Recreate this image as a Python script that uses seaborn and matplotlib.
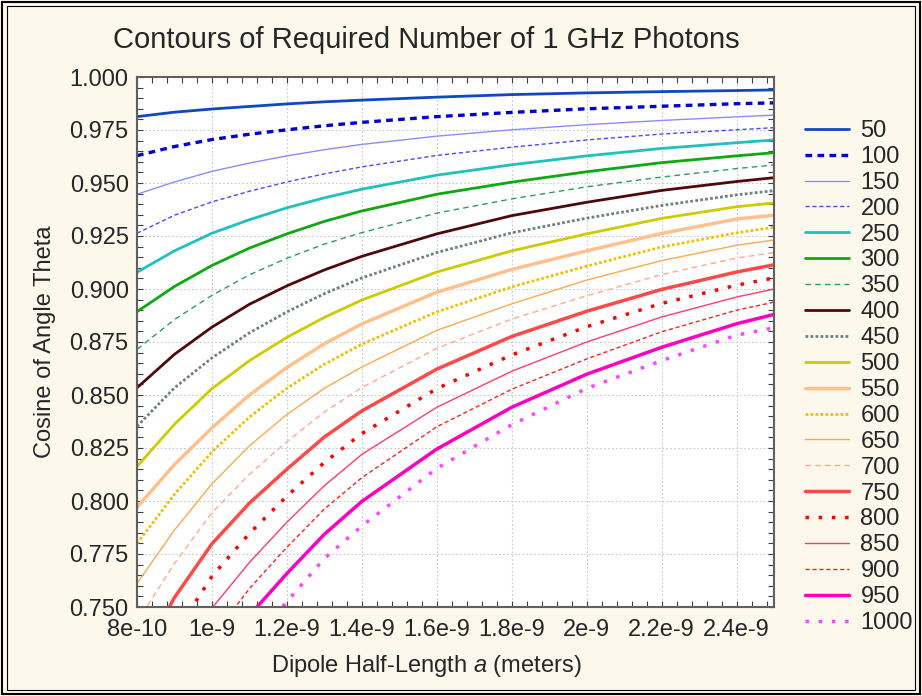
import numpy as np
import pandas as pd
import matplotlib
matplotlib.use("Agg")
import matplotlib.pyplot as plt
import seaborn as sns
from matplotlib.patches import Rectangle
from matplotlib.ticker import MultipleLocator

# -------------------------------
# DATA
# -------------------------------
half_length = [8e-10, 9e-10, 1.0e-9, 1.1e-9, 1.2e-9, 1.3e-9, 1.4e-9,
               1.6e-9, 1.8e-9, 2.0e-9, 2.2e-9, 2.4e-9, 2.5e-9]

nan = np.nan
cos_50 = [0.9813, 0.9834, 0.9849, 0.9861, 0.9873, 0.9883, 0.9891, 0.9905, 0.9917, 0.9925, 0.9931, 0.9936, 0.9939]
cos_100 = [0.9629, 0.9672, 0.9705, 0.9730, 0.9751, 0.9770, 0.9786, 0.9813, 0.9833, 0.9850, 0.9862, 0.9874, 0.9878]
cos_150 = [0.9447, 0.9505, 0.9555, 0.9594, 0.9628, 0.9657, 0.9682, 0.9721, 0.9751, 0.9775, 0.9795, 0.9812, 0.9820]
cos_200 = [0.9263, 0.9348, 0.9411, 0.9461, 0.9505, 0.9543, 0.9576, 0.9630, 0.9669, 0.9703, 0.9731, 0.9751, 0.9761]
cos_250 = [0.9079, 0.9180, 0.9263, 0.9327, 0.9383, 0.9430, 0.9471, 0.9537, 0.9586, 0.9628, 0.9663, 0.9690, 0.9703]
cos_300 = [0.8893, 0.9012, 0.9111, 0.9193, 0.9260, 0.9319, 0.9368, 0.9447, 0.9504, 0.9553, 0.9596, 0.9628, 0.9643]
cos_350 = [0.8715, 0.8856, 0.8970, 0.9067, 0.9145, 0.9212, 0.9266, 0.9358, 0.9425, 0.9482, 0.9528, 0.9568, 0.9585]
cos_400 = [0.8534, 0.8692, 0.8820, 0.8928, 0.9015, 0.9090, 0.9154, 0.9260, 0.9346, 0.9409, 0.9465, 0.9507, 0.9525]
cos_450 = [0.8352, 0.8534, 0.8675, 0.8793, 0.8892, 0.8978, 0.9052, 0.9172, 0.9265, 0.9334, 0.9394, 0.9444, 0.9464]
cos_500 = [0.8163, 0.8362, 0.8530, 0.8662, 0.8772, 0.8866, 0.8948, 0.9080, 0.9180, 0.9260, 0.9333, 0.9388, 0.9406]
cos_550 = [0.7970, 0.8172, 0.8345, 0.8500, 0.8630, 0.8742, 0.8835, 0.8985, 0.9092, 0.9180, 0.9262, 0.9330, 0.9348]
cos_600 = [0.7800, 0.8031, 0.8232, 0.8396, 0.8532, 0.8645, 0.8740, 0.8892, 0.9010, 0.9108, 0.9198, 0.9265, 0.9291]
cos_650 = [0.7611, 0.7863, 0.8081, 0.8260, 0.8408, 0.8532, 0.8632, 0.8805, 0.8930, 0.9042, 0.9134, 0.9206, 0.9231]
cos_700 = [0.7430, 0.7705, 0.7945, 0.8126, 0.8280, 0.8420, 0.8535, 0.8720, 0.8858, 0.8968, 0.9068, 0.9146, 0.9172]
cos_750 = [0.7215, 0.7545, 0.7798, 0.7990, 0.8150, 0.8302, 0.8425, 0.8622, 0.8776, 0.8895, 0.8998, 0.9080, 0.9114]
cos_800 = [nan, 0.7370, 0.7645, 0.7847, 0.8023, 0.8182, 0.8318, 0.8530, 0.8689, 0.8822, 0.8932, 0.9018, 0.9052]
cos_850 = [nan, nan, 0.7495, 0.7710, 0.7900, 0.8072, 0.8220, 0.8442, 0.8612, 0.8750, 0.8868, 0.8962, 0.9000]
cos_900 = [nan, nan, 0.7355, 0.7587, 0.7782, 0.7962, 0.8110, 0.8350, 0.8527, 0.8670, 0.8798, 0.8900, 0.8938]
cos_950 = [nan, nan, nan, 0.7460, 0.7658, 0.7843, 0.7998, 0.8245, 0.8442, 0.8598, 0.8725, 0.8836, 0.8880]
cos_1000 = [nan, nan, nan, 0.7310, 0.7525, 0.7729, 0.7882, 0.8154, 0.8360, 0.8531, 0.8662, 0.8782, 0.8817]

photon_counts = [50, 100, 150, 200, 250, 300, 350, 400, 450, 500,
                 550, 600, 650, 700, 750, 800, 850, 900, 950, 1000]
contours = [cos_50, cos_100, cos_150, cos_200, cos_250, cos_300, cos_350,
            cos_400, cos_450, cos_500, cos_550, cos_600, cos_650, cos_700,
            cos_750, cos_800, cos_850, cos_900, cos_950, cos_1000]

x_ticks = [8e-10, 1e-9, 1.2e-9, 1.4e-9, 1.6e-9, 1.8e-9, 2e-9, 2.2e-9, 2.4e-9]
x_tick_labels = ["8e-10", "1e-9", "1.2e-9", "1.4e-9", "1.6e-9",
                 "1.8e-9", "2e-9", "2.2e-9", "2.4e-9"]

# line styles: (colour, width, dashes or None for solid)
styles = [
    ("#1048c0", 2.0, None),
    ("#0000d0", 2.4, (2.0, 1.6)),
    ("#8c8cff", 1.0, None),
    ("#4848ff", 1.0, (3, 2)),
    ("#20c0c0", 2.0, None),
    ("#10a810", 2.0, None),
    ("#2e9a60", 1.0, (4, 3)),
    ("#500808", 2.0, None),
    ("#708080", 2.0, (1, 0.8)),
    ("#cccc00", 2.0, None),
    ("#ffc08c", 2.5, None),
    ("#f0c000", 2.0, (1, 0.8)),
    ("#ffa850", 1.0, None),
    ("#ffa890", 1.0, (4, 3)),
    ("#ff4848", 2.5, None),
    ("#ff0000", 2.5, (1, 2.8)),
    ("#ff3c6c", 1.0, None),
    ("#ff2020", 1.0, (3, 2)),
    ("#ff00c0", 2.5, None),
    ("#ff44ff", 2.5, (1, 2.8)),
]

# -------------------------------
# PLOT
# -------------------------------
sns.set_style("ticks")
plt.rcParams["font.family"] = ["Liberation Sans", "DejaVu Sans"]
plt.rcParams["mathtext.fontset"] = "custom"
plt.rcParams["mathtext.it"] = "Liberation Sans:italic"

bg = "#fdf8ec"
fig = plt.figure(figsize=(9.22, 6.96), dpi=100, facecolor=bg)
ax = fig.add_axes([137 / 922, 1 - 607 / 696, (774 - 137) / 922, (607 - 77) / 696])
ax.set_facecolor("white")

for n, vals, (col, lw, dash) in zip(photon_counts, contours, styles):
    sns.lineplot(x=half_length, y=vals, ax=ax, color=col, linewidth=lw,
                 label=str(n), estimator=None)
    l = ax.get_lines()[-1]
    if dash is not None:
        l.set_dashes(dash)
        l.set_dash_capstyle("butt")

ax.set_xlim(8e-10, 2.5e-9)
ax.set_ylim(0.75, 1.0)
ax.set_xticks(x_ticks)
ax.set_xticklabels(x_tick_labels)
ax.yaxis.set_major_locator(MultipleLocator(0.025))
ax.yaxis.set_minor_locator(MultipleLocator(0.005))
ax.xaxis.set_minor_locator(MultipleLocator(4e-11))
ax.yaxis.set_major_formatter(plt.FormatStrFormatter("%.3f"))
ax.tick_params(which="both", direction="in", top=True, right=True,
               length=4, width=0.8, color="#404040", labelsize=17, pad=6)
ax.tick_params(axis="x", which="major", pad=9)
ax.grid(True, which="major", color="#c8c8c8", linestyle=(0, (1.5, 2)), linewidth=0.8)
for s in ax.spines.values():
    s.set_color("#606060")
    s.set_linewidth(1.5)

ax.set_xlabel("Dipole Half-Length $a$ (meters)", fontsize=17)
ax.xaxis.set_label_coords((426 - 137) / 637, -0.086)
ax.set_ylabel("Cosine of Angle Theta", fontsize=17, labelpad=10)

fig.text(426 / 922, 1 - 40 / 696, "Contours of Required Number of 1 GHz Photons",
         fontsize=21, ha="center", va="center")

handles, labels = ax.get_legend_handles_labels()
ax.get_legend().remove()
fig.legend(handles, labels, loc="upper left", bbox_to_anchor=(805 / 922, 1 - 120 / 696),
           frameon=False, fontsize=17, handlelength=1.85, handletextpad=0.5,
           labelspacing=0.165, borderpad=0, borderaxespad=0)

# double frame round the figure
fig.patches.append(Rectangle((0.002, 0.003), 0.996, 0.994, transform=fig.transFigure,
                             fill=False, edgecolor="black", linewidth=1.5))
fig.patches.append(Rectangle((0.008, 0.009), 0.984, 0.982, transform=fig.transFigure,
                             fill=False, edgecolor="black", linewidth=0.8))

fig.savefig("out.png", dpi=100, facecolor=bg)
